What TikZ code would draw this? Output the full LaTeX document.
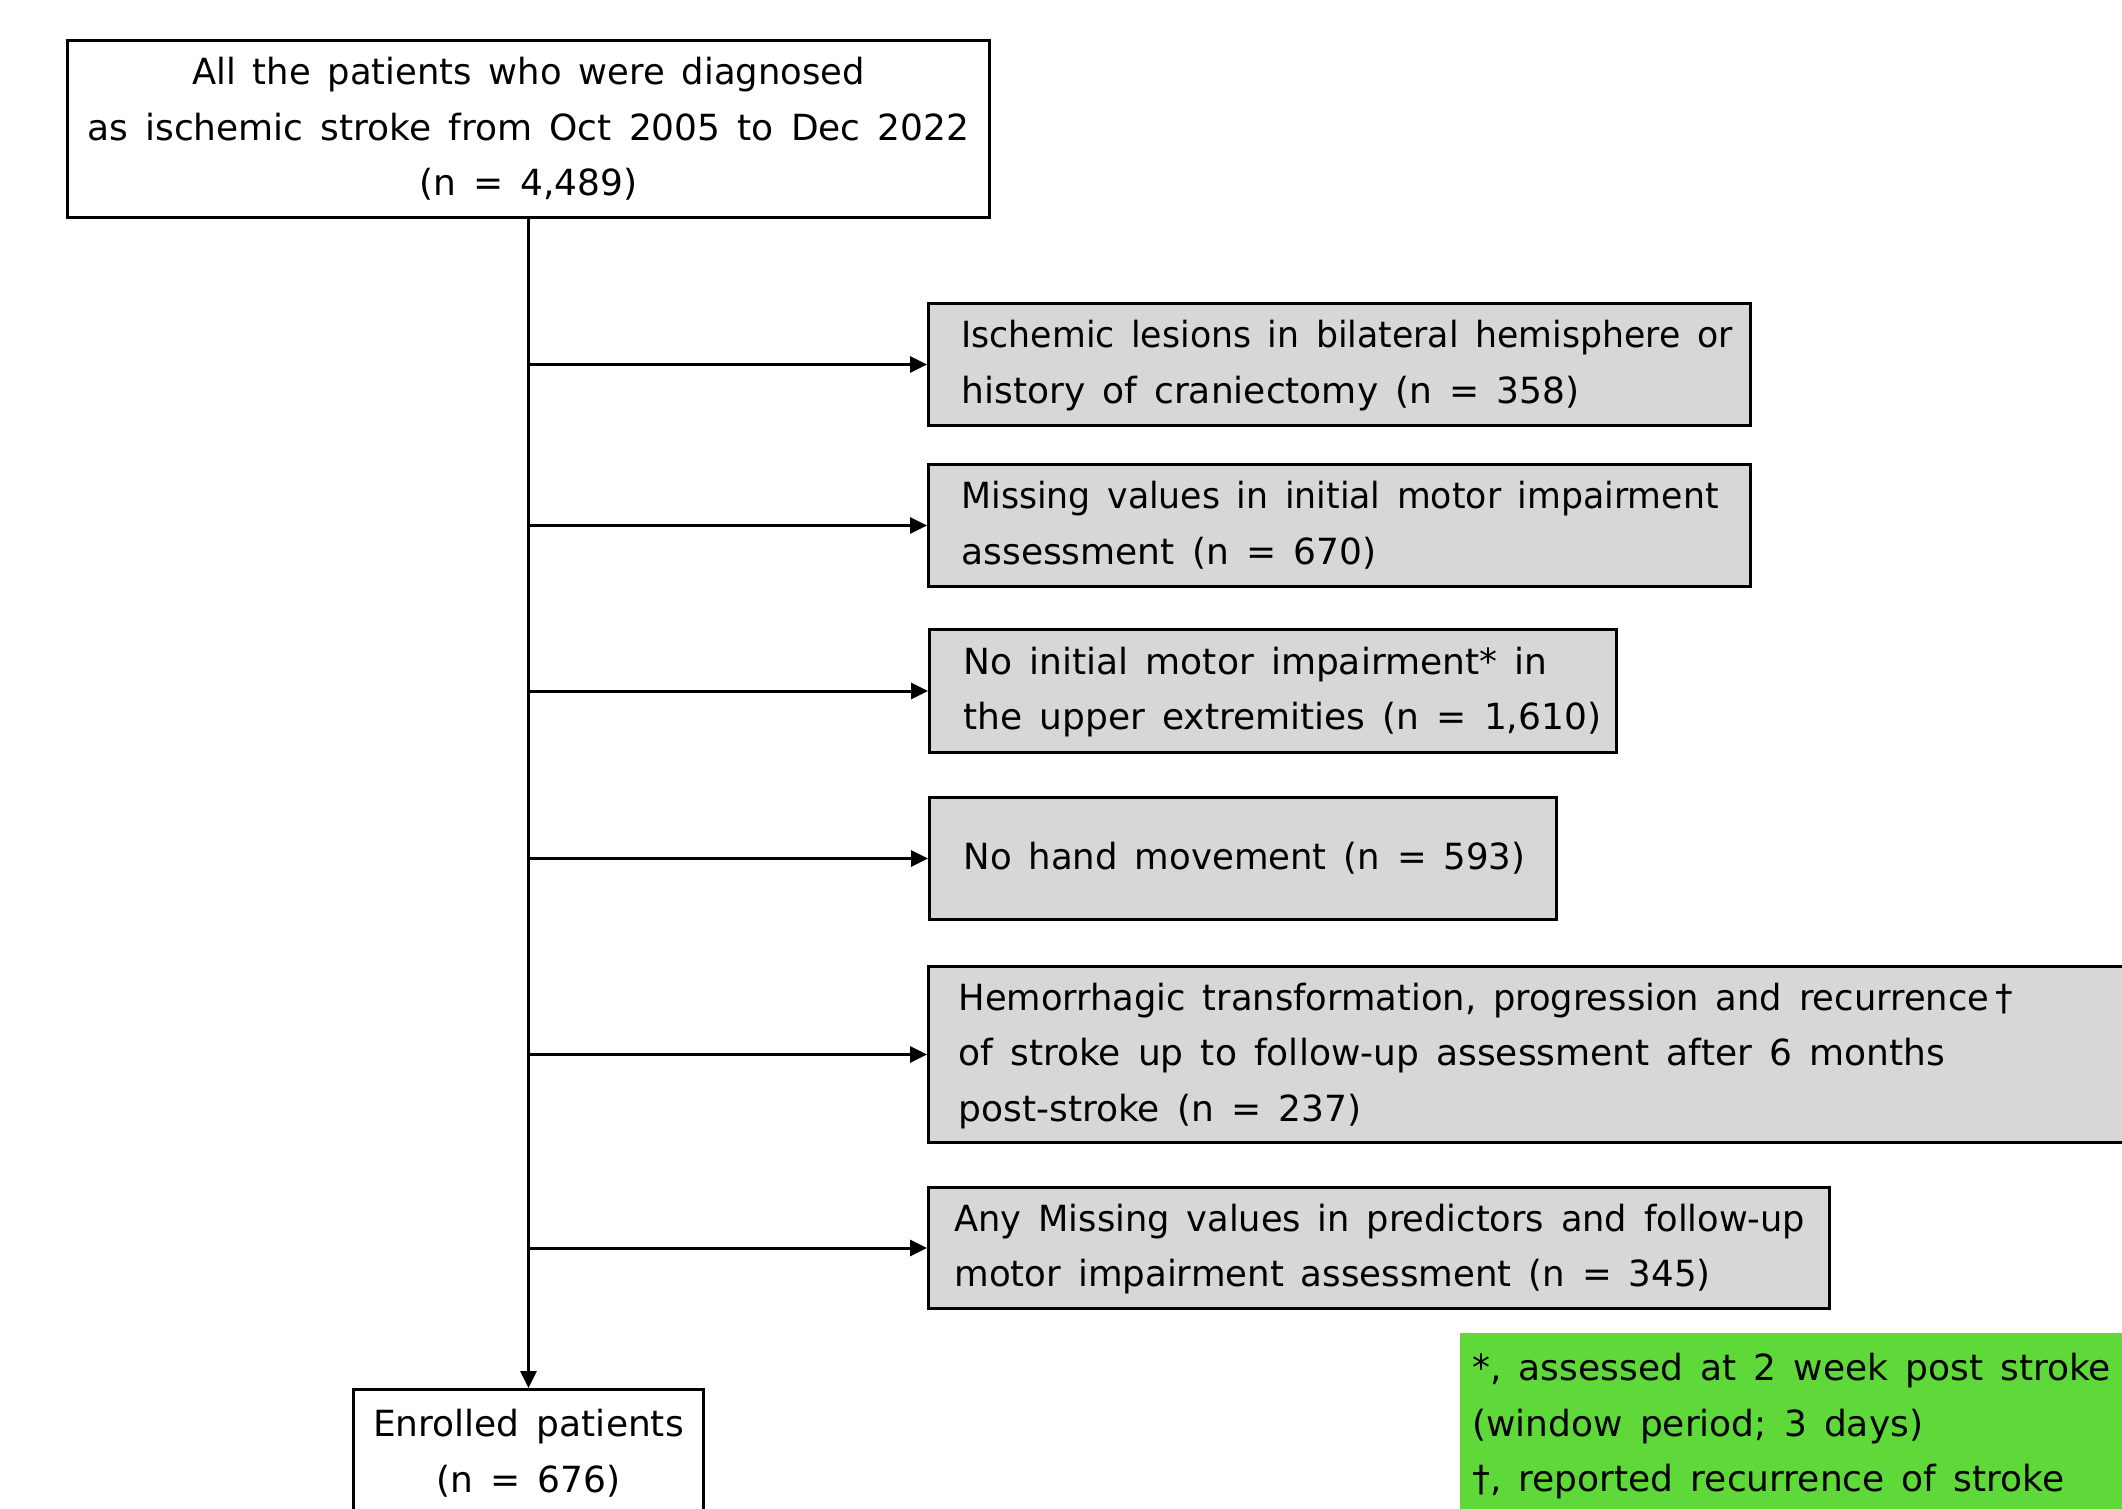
\documentclass[tikz,border=0pt]{standalone}
\usepackage{fontspec}
\usepackage{graphicx}
\setmainfont{DejaVu Sans}[WordSpace={1.5}]
\usetikzlibrary{arrows.meta}
\definecolor{boxgray}{RGB}{215,215,215}
\definecolor{notegreen}{RGB}{95,217,58}
\newcommand{\flowfont}{\fontsize{36}{55.5}\selectfont}
\newcommand{\leftlines}[2]{\makebox[#1pt][l]{\begin{tabular}{@{}l@{}}#2\end{tabular}}}
\newcommand{\centerlines}[1]{\begin{tabular}{@{}c@{}}#1\end{tabular}}
\newcommand{\narrow}[2]{\scalebox{#1}[1]{#2}}
\tikzset{
  frame/.style={draw, line width=3pt, font=\flowfont, inner ysep=0pt},
  excl/.style={frame, fill=boxgray, anchor=north west},
  arr/.style={line width=3pt, -{Triangle[length=17pt,width=16pt]}},
}
\begin{document}
\begin{tikzpicture}[x=1pt,y=-1pt]
\useasboundingbox (0,0) rectangle (2122,1508);
% top box
\node[frame, anchor=north west, minimum width=922, minimum height=177, inner xsep=0pt]
  (top) at (66,39) {\centerlines{\narrow{0.982}{All the patients who were diagnosed}\\as ischemic stroke from Oct 2005 to Dec 2022\\(n = 4,489)}};
% enrolled
\node[frame, anchor=north west, minimum width=350, minimum height=128, inner xsep=0pt]
  (enr) at (352,1388) {\centerlines{Enrolled patients\\(n = 676)}};
% exclusion boxes
\node[excl, minimum height=122, inner xsep=33] (e1) at (927,302)
  {\leftlines{756}{\narrow{0.964}{Ischemic lesions in bilateral hemisphere or}\\history of craniectomy (n = 358)}};
\node[excl, minimum height=122, inner xsep=33] (e2) at (927,463)
  {\leftlines{756}{\narrow{0.964}{Missing values in initial motor impairment}\\assessment (n = 670)}};
\node[excl, minimum height=123, inner xsep=34] (e3) at (928,628)
  {\leftlines{619}{No initial motor impairment* in\\the upper extremities (n = 1,610)}};
\node[excl, minimum height=122, inner xsep=34] (e4) at (928,796)
  {\leftlines{559}{\narrow{0.986}{No hand movement (n = 593)}}};
\node[excl, minimum height=176, inner xsep=30] (e5) at (927,965)
  {\leftlines{1200}{\narrow{0.98}{Hemorrhagic transformation, progression and recurrence\,†}\\of stroke up to follow-up assessment after 6 months\\post-stroke (n = 237)}};
\node[excl, minimum height=121, inner xsep=26] (e6) at (927,1186)
  {\leftlines{849}{\narrow{0.978}{Any Missing values in predictors and follow-up}\\\narrow{0.988}{motor impairment assessment (n = 345)}}};
% note
\node[fill=notegreen, anchor=north west, font=\flowfont, inner xsep=12, inner ysep=0,
  minimum height=184] (note) at (1460,1333)
  {\leftlines{700}{*, assessed at 2 week post stroke\\(window period; 3 days)\\†, reported recurrence of stroke}};
% connectors
\draw[arr] (top) -- (enr);
\foreach \e in {e1,e2,e3,e4,e5,e6}
  \draw[arr] (top.south |- \e.west) -- (\e.west);
\end{tikzpicture}
\end{document}
